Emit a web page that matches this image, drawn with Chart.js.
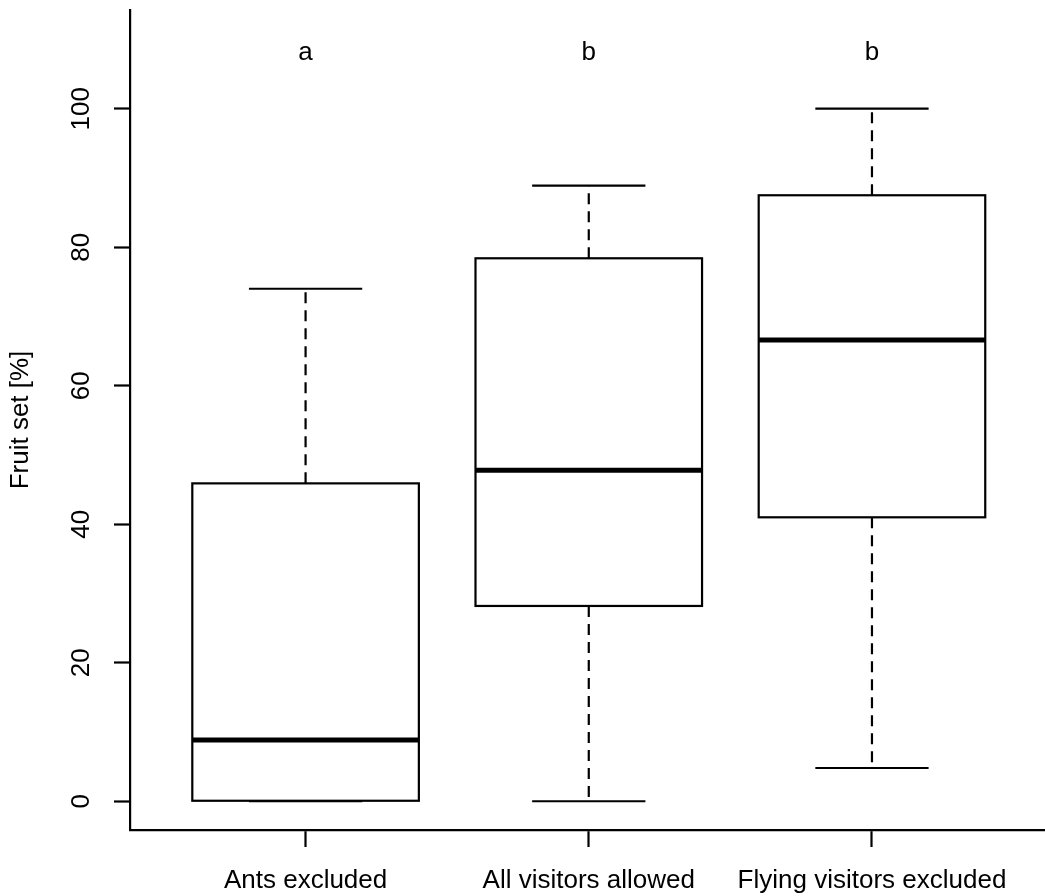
<!DOCTYPE html>
<html lang="en">
<head>
    <meta charset="UTF-8">
    <title>Fruit set</title>
    <style>
        body {
            margin: 0;
            background-color: #ffffff;
        }
        #grafico-container {
            position: relative;
            width: 1045px;
            height: 896px;
        }
    </style>
</head>
<body>

<div id="grafico-container">
    <canvas id="grafico"></canvas>
</div>

<script src="https://cdn.jsdelivr.net/npm/chart.js"></script>
<script>
    const categories = ['Ants excluded', 'All visitors allowed', 'Flying visitors excluded'];
    const lowerWhisker = [0, 0, 4.8];
    const q1 = [0, 28.2, 41.0];
    const medians = [8.85, 47.8, 66.6];
    const q3 = [45.9, 78.4, 87.5];
    const upperWhisker = [74, 88.9, 100];
    const groupLetters = ['a', 'b', 'b'];
    const letterLevel = 108;
    const yTicks = [0, 20, 40, 60, 80, 100];

    const fonte = 'Liberation Sans, Arial, sans-serif';

    // Plugin que desenha contorno das caixas, medianas, bigodes e letras usando as escalas do Chart.js
    const boxplotExtras = {
        id: 'boxplotExtras',
        afterDatasetsDraw(chart) {
            const ctx = chart.ctx;
            const x = chart.scales.x;
            const y = chart.scales.y;
            const barras = chart.getDatasetMeta(0).data;

            ctx.save();
            ctx.strokeStyle = '#000';
            barras.forEach((bar, i) => {
                const cx = x.getPixelForValue(i + 1);
                const half = bar.width / 2;
                const cap = bar.width / 4;

                // bigodes tracejados
                ctx.lineWidth = 2.2;
                ctx.setLineDash([11, 7]);
                ctx.beginPath();
                ctx.moveTo(cx, y.getPixelForValue(q3[i]));
                ctx.lineTo(cx, y.getPixelForValue(upperWhisker[i]));
                ctx.moveTo(cx, y.getPixelForValue(q1[i]));
                ctx.lineTo(cx, y.getPixelForValue(lowerWhisker[i]));
                ctx.stroke();

                // extremos
                ctx.setLineDash([]);
                ctx.beginPath();
                ctx.moveTo(cx - cap, y.getPixelForValue(upperWhisker[i]));
                ctx.lineTo(cx + cap, y.getPixelForValue(upperWhisker[i]));
                ctx.moveTo(cx - cap, y.getPixelForValue(lowerWhisker[i]));
                ctx.lineTo(cx + cap, y.getPixelForValue(lowerWhisker[i]));
                ctx.stroke();

                // contorno da caixa
                ctx.strokeRect(bar.x - half, bar.y, bar.width, bar.base - bar.y);

                // mediana
                ctx.lineWidth = 5;
                ctx.beginPath();
                ctx.moveTo(cx - half, y.getPixelForValue(medians[i]));
                ctx.lineTo(cx + half, y.getPixelForValue(medians[i]));
                ctx.stroke();

                // letras de significancia
                ctx.fillStyle = '#000';
                ctx.font = '26px ' + fonte;
                ctx.textAlign = 'center';
                ctx.textBaseline = 'middle';
                ctx.fillText(groupLetters[i], cx, y.getPixelForValue(letterLevel));
            });
            ctx.restore();
        }
    };

    new Chart(document.getElementById('grafico').getContext('2d'), {
        type: 'bar',
        data: {
            datasets: [{
                data: categories.map((c, i) => ({ x: i + 1, y: [q1[i], q3[i]] })),
                backgroundColor: '#ffffff',
                borderWidth: 0,
                barPercentage: 1,
                categoryPercentage: 0.8
            }]
        },
        options: {
            responsive: true,
            maintainAspectRatio: false,
            animation: false,
            layout: { padding: { top: 10, right: 0, left: 0, bottom: 0 } },
            plugins: {
                legend: { display: false },
                tooltip: { enabled: false }
            },
            scales: {
                x: {
                    type: 'linear',
                    min: 0.38,
                    max: 3.611,
                    offset: false,
                    afterBuildTicks: (scale) => {
                        scale.ticks = categories.map((c, i) => ({ value: i + 1 }));
                    },
                    afterFit: (scale) => {
                        scale.height = 66;
                        scale.paddingLeft = 0;
                        scale.paddingRight = 0;
                    },
                    grid: {
                        offset: false,
                        drawOnChartArea: false,
                        drawTicks: true,
                        tickLength: 17,
                        tickWidth: 2.2,
                        tickColor: '#000'
                    },
                    border: { display: true, color: '#000', width: 2.2 },
                    ticks: {
                        autoSkip: false,
                        maxRotation: 0,
                        padding: 18,
                        color: '#000',
                        font: { family: fonte, size: 26 },
                        callback: (v) => categories[v - 1]
                    }
                },
                y: {
                    min: -4.15,
                    max: 114.25,
                    afterBuildTicks: (scale) => {
                        scale.ticks = yTicks.map(v => ({ value: v }));
                    },
                    afterFit: (scale) => {
                        scale.width = 130;
                        scale.paddingTop = 0;
                        scale.paddingBottom = 0;
                    },
                    grid: {
                        drawOnChartArea: false,
                        drawTicks: true,
                        tickLength: 16,
                        tickWidth: 2.2,
                        tickColor: '#000'
                    },
                    border: { display: true, color: '#000', width: 2.2 },
                    ticks: {
                        minRotation: 90,
                        maxRotation: 90,
                        crossAlign: 'center',
                        padding: 10,
                        color: '#000',
                        font: { family: fonte, size: 26 }
                    },
                    title: {
                        display: true,
                        text: 'Fruit set [%]',
                        color: '#000',
                        padding: { top: 5, bottom: 0 },
                        font: { family: fonte, size: 26 }
                    }
                }
            }
        },
        plugins: [boxplotExtras]
    });
</script>
</body>
</html>
